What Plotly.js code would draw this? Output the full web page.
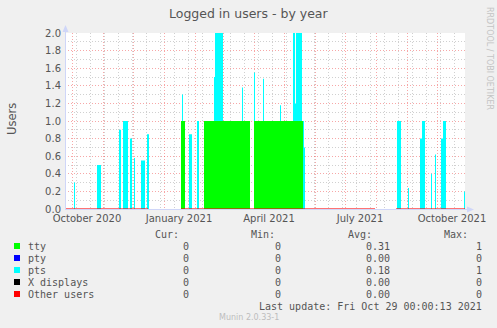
<!DOCTYPE html>
<html>
<head>
<meta charset="utf-8">
<script src="https://cdn.plot.ly/plotly-3.0.1.min.js"></script>
<style>
  html, body { margin: 0; padding: 0; background: #F0F0F0; }
  #chart { width: 497px; height: 328px; }
</style>
</head>
<body>
<div id="chart"></div>
<script>
// ---------- data ----------
const rangeStart = '2020-09-24';
const rangeEnd = '2021-10-29';

// tty sessions (start inclusive, end exclusive, value)
const ttyStart = ['2021-01-18', '2021-02-10', '2021-04-01'];
const ttyEnd   = ['2021-01-22', '2021-03-28', '2021-05-20'];
const ttyValue = [1, 1, 1];

// pty sessions (none)
const ptyStart = [];
const ptyEnd   = [];
const ptyValue = [];

// pts sessions
const ptsStart = ['2020-10-03','2020-10-26','2020-11-17','2020-11-21','2020-11-28','2020-12-02','2020-12-09','2020-12-15',
                  '2021-01-19','2021-01-26','2021-02-03','2021-02-20','2021-02-21','2021-03-20','2021-04-01','2021-04-10',
                  '2021-04-27','2021-05-10','2021-05-12','2021-05-13','2021-05-20','2021-05-21',
                  '2021-08-22','2021-09-02','2021-09-14','2021-09-16','2021-09-25','2021-09-29','2021-10-05','2021-10-07','2021-10-28'];
const ptsEnd   = ['2020-10-04','2020-10-30','2020-11-19','2020-11-26','2020-11-30','2020-12-03','2020-12-13','2020-12-17',
                  '2021-01-20','2021-01-29','2021-02-05','2021-02-21','2021-03-01','2021-03-21','2021-04-02','2021-04-11',
                  '2021-04-28','2021-05-12','2021-05-13','2021-05-19','2021-05-21','2021-05-22',
                  '2021-08-26','2021-09-03','2021-09-16','2021-09-19','2021-09-26','2021-09-30','2021-10-07','2021-10-10','2021-10-29'];
const ptsValue = [0.3, 0.5, 0.9, 1.0, 0.8, 0.58, 0.55, 0.85,
                  0.3, 0.85, 1.0, 0.5, 1.0, 0.38, 0.55, 0.48,
                  0.18, 1.0, 0.2, 1.0, 1.0, 0.7,
                  1.0, 0.24, 0.8, 1.0, 0.4, 0.62, 0.8, 1.0, 0.2];

// periods without data
const gapStart = ['2020-12-17', '2021-08-01'];
const gapEnd   = ['2021-01-18', '2021-08-21'];

// legend table
const seriesNames = ['tty', 'pty', 'pts', 'X displays', 'Other users'];
const seriesColors = ['#00FF00', '#0000FF', '#00FFFF', '#000000', '#FF0000'];
const curVals = ['0', '0', '0', '0', '0'];
const minVals = ['0', '0', '0', '0', '0'];
const avgVals = ['0.31', '0.00', '0.18', '0.00', '0.00'];
const maxVals = ['1', '0', '1', '0', '0'];

// x tick labels
const xTickVals = ['2020-10-16', '2021-01-16', '2021-04-16', '2021-07-16', '2021-10-16'];
const xTickText = ['October 2020', 'January 2021', 'April 2021', 'July 2021', 'October 2021'];

// ---------- helpers ----------
function addDays(s, n) {
  const d = new Date(s + 'T00:00:00Z');
  d.setUTCDate(d.getUTCDate() + n);
  return d.toISOString().slice(0, 10);
}
const days = [];
for (let d = rangeStart; d <= rangeEnd; d = addDays(d, 1)) days.push(d);

function expand(starts, ends, vals) {
  return days.map(d => {
    for (let k = 0; k < starts.length; k++) if (d >= starts[k] && d < ends[k]) return vals[k];
    return 0;
  });
}
function inGap(d) {
  for (let k = 0; k < gapStart.length; k++) if (d >= gapStart[k] && d < gapEnd[k]) return true;
  return false;
}

const ttyY = expand(ttyStart, ttyEnd, ttyValue);
const ptyY = expand(ptyStart, ptyEnd, ptyValue);
const ptsY = expand(ptsStart, ptsEnd, ptsValue);
const zeroY = days.map(d => inGap(d) ? null : 0);

// month starts (major grid) and fortnight Mondays (minor grid)
const monthStarts = [];
for (let y = 2020, m = 9; y < 2022; ) {
  monthStarts.push(y + '-' + String(m + 1).padStart(2, '0') + '-01');
  m++; if (m === 12) { m = 0; y++; }
  if (y === 2021 && m === 11) break;
}
const fortnights = [];
for (let d = '2020-10-05'; d <= rangeEnd; d = addDays(d, 14)) fortnights.push(d);

// pixel -> paper
const L = 65, R = 465, T = 33, B = 209;
const px = X => (X - L) / (R - L);
const py = Y => (B - Y) / (B - T);

// ---------- traces ----------
function area(name, y, color) {
  return {
    x: days, y: y, name: name, type: 'scatter', mode: 'lines',
    stackgroup: 'one', line: { width: 0, shape: 'hv' },
    fillcolor: color, hoverinfo: 'skip', showlegend: false
  };
}
const traces = [
  area('tty', ttyY, seriesColors[0]),
  area('pty', ptyY, seriesColors[1]),
  area('pts', ptsY, seriesColors[2]),
  {
    x: days, y: zeroY, name: 'Other users', type: 'scatter', mode: 'lines',
    line: { color: 'rgba(255,0,0,0.55)', width: 2, shape: 'hv' },
    connectgaps: false, hoverinfo: 'skip', showlegend: false
  },
  { x: [rangeStart], y: [null], xaxis: 'x2', type: 'scatter', mode: 'lines', hoverinfo: 'skip', showlegend: false }
];

// ---------- annotations ----------
const font = 'DejaVu Sans';
const mono = 'DejaVu Sans Mono';
const ann = [];
function txt(text, X, Y, xanchor, opts) {
  ann.push(Object.assign({
    text: text, xref: 'paper', yref: 'paper', x: px(X), y: py(Y),
    xanchor: xanchor, yanchor: 'middle', showarrow: false,
    font: { family: mono, size: 10, color: '#555' }
  }, opts || {}));
}
txt('Logged in users - by year', 249, 13, 'center', { font: { family: font, size: 12.5, color: '#555' } });
txt('Users', 12, 119, 'center', { textangle: -90, font: { family: font, size: 11.5, color: '#555' } });
txt('RRDTOOL / TOBI OETIKER', 490, 58, 'center', { textangle: 90, font: { family: font, size: 8, color: '#c4c4c4' } });

const headerY = 234;
txt('Cur:', 181, headerY, 'right');
txt('Min:', 277, headerY, 'right');
txt('Avg:', 374, headerY, 'right');
txt('Max:', 470, headerY, 'right');
const shapes = [];
seriesNames.forEach((n, i) => {
  const Y = 246 + i * 12;
  txt(n, 26, Y, 'left');
  txt(curVals[i], 191, Y, 'right');
  txt(minVals[i], 283, Y, 'right');
  txt(avgVals[i], 392, Y, 'right');
  txt(maxVals[i], 484, Y, 'right');
  shapes.push({
    type: 'rect', xref: 'paper', yref: 'paper',
    x0: px(14), x1: px(20), y0: py(Y + 3), y1: py(Y - 3),
    fillcolor: seriesColors[i], line: { width: 0 }, layer: 'above'
  });
});
txt('Last update: Fri Oct 29 00:00:13 2021', 484, 306, 'right');
txt('Munin 2.0.33-1', 249, 317, 'center', { font: { family: font, size: 8, color: '#bdbdbd' } });

// axis lines and arrows
const axisCol = '#CFD6F8';
shapes.push({ type: 'line', xref: 'paper', yref: 'paper', x0: px(65.5), x1: px(65.5), y0: py(209), y1: py(29),
  line: { color: axisCol, width: 1 }, layer: 'above' });
shapes.push({ type: 'line', xref: 'paper', yref: 'paper', x0: px(65), x1: px(469), y0: py(209.5), y1: py(209.5),
  line: { color: axisCol, width: 1 }, layer: 'between' });
shapes.push({ type: 'path', xref: 'paper', yref: 'paper', fillcolor: axisCol, line: { width: 0 }, layer: 'above',
  path: 'M ' + px(62.5) + ' ' + py(32) + ' L ' + px(68.5) + ' ' + py(32) + ' L ' + px(65.5) + ' ' + py(25) + ' Z' });
shapes.push({ type: 'path', xref: 'paper', yref: 'paper', fillcolor: axisCol, line: { width: 0 }, layer: 'above',
  path: 'M ' + px(467) + ' ' + py(206.5) + ' L ' + px(467) + ' ' + py(212.5) + ' L ' + px(474) + ' ' + py(209.5) + ' Z' });

// ---------- layout ----------
const redGrid = 'rgba(240,80,80,0.5)';
const grayGrid = 'rgba(150,150,150,0.45)';
const layout = {
  width: 497, height: 328,
  margin: { l: L, r: 497 - R, t: T, b: 328 - B, pad: 0 },
  paper_bgcolor: '#F0F0F0', plot_bgcolor: '#FFFFFF',
  showlegend: false, hovermode: false,
  xaxis: {
    type: 'date', range: [rangeStart, rangeEnd],
    tickmode: 'array', tickvals: monthStarts, showticklabels: false, ticks: '',
    showgrid: true, gridcolor: redGrid, gridwidth: 1, griddash: '1px,2px',
    minor: { tickmode: 'array', tickvals: fortnights, showgrid: true, gridcolor: grayGrid, gridwidth: 1, griddash: '1px,2px', ticks: '' },
    zeroline: false, showline: false, fixedrange: true
  },
  xaxis2: {
    type: 'date', overlaying: 'x', matches: 'x', anchor: 'y', side: 'bottom', range: [rangeStart, rangeEnd],
    tickmode: 'array', tickvals: xTickVals, ticktext: xTickText, ticks: '',
    showgrid: false, zeroline: false, showline: false, ticklabelstandoff: 2,
    tickfont: { family: font, size: 10, color: '#555' }, fixedrange: true
  },
  yaxis: {
    range: [0, 2], tickmode: 'linear', tick0: 0, dtick: 0.2, tickformat: '.1f', ticks: '',
    showgrid: true, gridcolor: redGrid, gridwidth: 1, griddash: '1px,2px',
    minor: { tick0: 0, dtick: 0.1, showgrid: true, gridcolor: grayGrid, gridwidth: 1, griddash: '1px,2px', ticks: '' },
    zeroline: false, showline: false, ticklabelstandoff: 3,
    tickfont: { family: font, size: 10, color: '#555' }, fixedrange: true
  },
  annotations: ann,
  shapes: shapes
};

Plotly.newPlot('chart', traces, layout, { displayModeBar: false, staticPlot: true });
</script>
</body>
</html>
